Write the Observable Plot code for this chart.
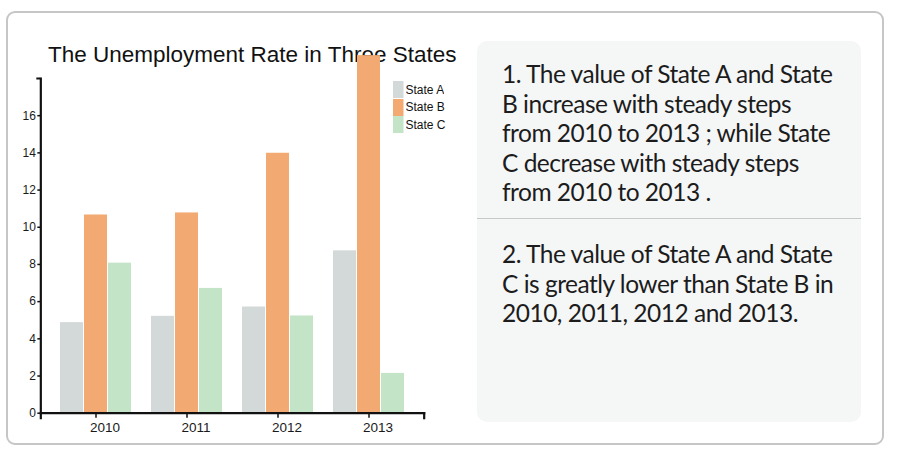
<!DOCTYPE html>
<html>
<head>
<meta charset="utf-8">
<script src="https://cdn.jsdelivr.net/npm/d3@7"></script>
<script src="https://cdn.jsdelivr.net/npm/@observablehq/plot@0.6"></script>
<style>
  html, body { margin: 0; padding: 0; background: #fff; }
  #root { position: relative; width: 899px; height: 457px; overflow: hidden; }
  #card { position: absolute; left: 6px; top: 11px; width: 874px; height: 430px;
          border: 2px solid #c6c6c6; border-radius: 9px; box-sizing: content-box; }
  #title { position: absolute; left: 48px; top: 44px; font-family: "Liberation Sans", Arial, sans-serif;
           font-size: 22.5px; line-height: 1; color: #111; white-space: nowrap; }
  #chart { position: absolute; left: 0; top: 0; }
  #legend { position: absolute; left: 393px; top: 81px; }
  #panel { position: absolute; left: 477px; top: 41px; width: 384px; height: 381px;
           background: #f5f6f6; border-radius: 10px; }
  #divider { position: absolute; left: 0; top: 177px; width: 384px; height: 0; border-top: 1.5px solid #c8c8c8; }
  .para { position: absolute; left: 25px; font-family: Lato, "Open Sans", sans-serif; font-size: 24.5px;
          line-height: 29.6px; color: #1c1c1c; white-space: nowrap; letter-spacing: -0.5px; }
  .lg-swatch svg { margin-right: 2px !important; }
  .lg-swatch { padding-bottom: 0.5px !important; }
</style>
</head>
<body>
<div id="root">
  <div id="card"></div>
  <div id="title">The Unemployment Rate in Three States</div>
  <div id="panel">
    <div class="para" id="p1" style="top:18px">1. The value of State A and State<br>B increase with steady steps<br>from 2010 to 2013 ; while State<br>C decrease with steady steps<br>from 2010 to 2013 .</div>
    <div id="divider"></div>
    <div class="para" id="p2" style="top:198px">2. The value of State A and State<br>C is greatly lower than State B in<br>2010, 2011, 2012 and 2013.</div>
  </div>
  <div id="chart"></div>
  <div id="legend"></div>
</div>
<script>
const years = ["2010", "2011", "2012", "2013"];
const states = ["State A", "State B", "State C"];
const stateA = [4.87, 5.21, 5.71, 8.73];
const stateB = [10.66, 10.77, 13.98, 19.23];
const stateC = [8.07, 6.71, 5.23, 2.14];
const colors = ["#d3d8d8", "#f2aa72", "#c4e4c7"];
const yTicks = [0, 2, 4, 6, 8, 10, 12, 14, 16];

const series = [stateA, stateB, stateC];
const data = years.flatMap((year, i) =>
  states.map((state, j) => ({year, state, value: series[j][i]}))
);

const W = 470, H = 440, ML = 39, MR = 46, MT = 78, MB = 27.3;
const fxPadInner = 0.224, fxPadOuter = 0.215;
// distance from the frame's edge to the outer facets (fx outer padding)
const fxStep = (W - ML - MR) / (years.length - fxPadInner + 2 * fxPadOuter);
const facetShift = -fxPadOuter * fxStep;
const innerH = H - MT - MB;

const chart = Plot.plot({
  width: W,
  height: H,
  marginLeft: ML,
  marginRight: MR,
  marginTop: MT,
  marginBottom: MB,
  style: {fontFamily: "Liberation Sans, Arial, sans-serif", fontSize: "12px", color: "#1a1a1a", background: "transparent", overflow: "visible"},
  fx: {domain: years, paddingInner: fxPadInner, paddingOuter: fxPadOuter, label: null},
  x: {domain: states, paddingInner: 0.055, paddingOuter: 0, axis: null},
  y: {domain: [0, 18], axis: null},
  color: {domain: states, range: colors},
  marks: [
    Plot.barY(data, {fx: "year", x: "state", y: "value", fill: "state"}),
    Plot.axisY({ticks: yTicks, tickSize: 3, tickPadding: 2, strokeWidth: 1.5, stroke: "#111", label: null, dx: facetShift, fontSize: 12}),
    Plot.axisY({ticks: [18], tickSize: 4, tickFormat: () => "", strokeWidth: 2, stroke: "#111", label: null, dx: facetShift}),
    Plot.axisFx({anchor: "bottom", text: null, tickSize: 5, strokeWidth: 1.5, stroke: "#111", label: null}),
    Plot.axisFx({anchor: "bottom", tickSize: 0, tickPadding: 9.4, dx: 9, label: null, fontSize: 13.5}),
    Plot.frame({facet: "super", anchor: "left", stroke: "#111", strokeWidth: 2.2, insetLeft: facetShift, insetBottom: -5}),
    Plot.frame({facet: "super", anchor: "right", stroke: "#111", strokeWidth: 2.2, insetRight: facetShift, insetTop: innerH, insetBottom: -5}),
    Plot.frame({facet: "super", anchor: "bottom", stroke: "#111", strokeWidth: 2.2, insetLeft: facetShift, insetRight: facetShift})
  ]
});
document.getElementById("chart").appendChild(chart);

const legend = Plot.legend({
  color: {domain: states, range: colors},
  swatchWidth: 10.5,
  swatchHeight: 17,
  columns: 1,
  className: "lg",
  style: {fontFamily: "Liberation Sans, Arial, sans-serif", fontSize: "12px", color: "#111", margin: "0"}
});
document.getElementById("legend").appendChild(legend);
</script>
</body>
</html>
